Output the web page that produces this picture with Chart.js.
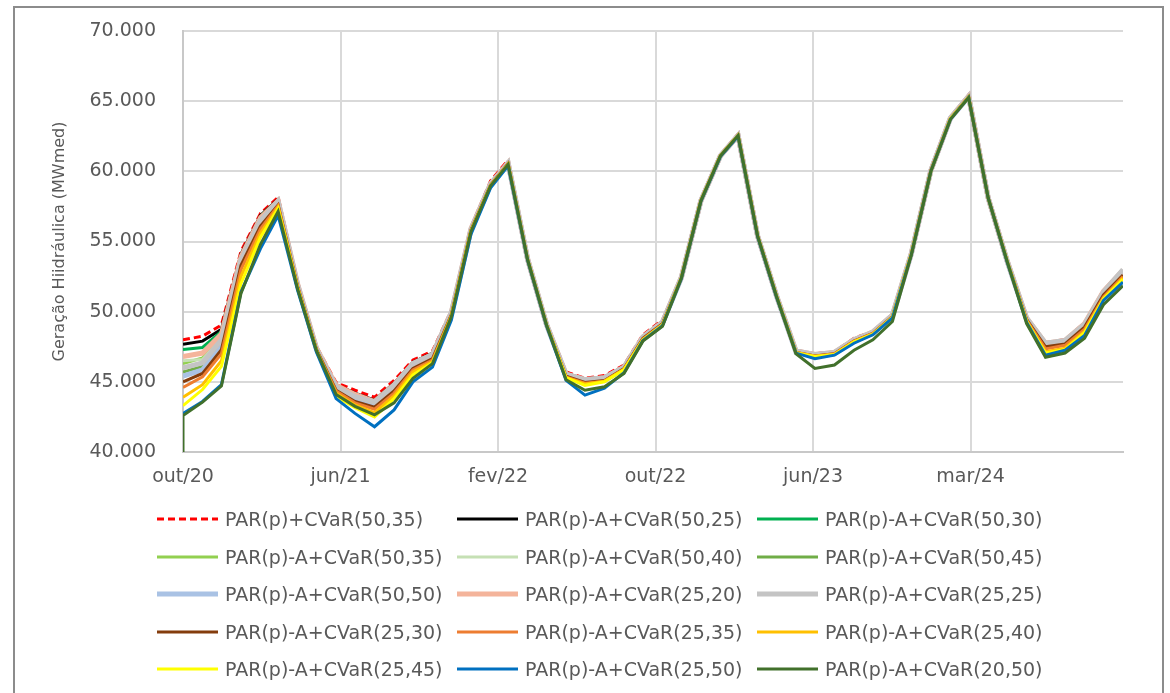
<!DOCTYPE html>
<html>
<head>
<meta charset="utf-8">
<script src="https://cdn.jsdelivr.net/npm/chart.js@4.4.1/dist/chart.umd.min.js"></script>
<style>
  html, body { margin: 0; padding: 0; background: #fff; }
  #wrap { position: relative; width: 1170px; height: 693px; overflow: hidden; }
  #frame { position: absolute; left: 13px; top: 6px; width: 1151px; height: 720px; border: 2px solid #8c8c8c; box-sizing: border-box; }
  #chart { position: absolute; left: 0; top: 0; }
  .leg { position: absolute; height: 24px; display: flex; align-items: center; white-space: nowrap;
         font-family: 'DejaVu Sans', sans-serif; font-size: 19px; color: #595959; }
  .leg svg { margin-right: 7px; }
</style>
</head>
<body>
<div id="wrap">
  <div id="frame"></div>
  <canvas id="chart" width="1170" height="693"></canvas>
  <div id="legend"></div>
</div>
<script>
(function () {
    'use strict';

    const months = [
        '2020-10', '2020-11', '2020-12',
        '2021-01', '2021-02', '2021-03', '2021-04', '2021-05', '2021-06', '2021-07', '2021-08', '2021-09', '2021-10', '2021-11', '2021-12',
        '2022-01', '2022-02', '2022-03', '2022-04', '2022-05', '2022-06', '2022-07', '2022-08', '2022-09', '2022-10', '2022-11', '2022-12',
        '2023-01', '2023-02', '2023-03', '2023-04', '2023-05', '2023-06', '2023-07', '2023-08', '2023-09', '2023-10', '2023-11', '2023-12',
        '2024-01', '2024-02', '2024-03', '2024-04', '2024-05', '2024-06', '2024-07', '2024-08', '2024-09', '2024-10', '2024-11',
    ];
    const mesesPt = ['jan', 'fev', 'mar', 'abr', 'mai', 'jun', 'jul', 'ago', 'set', 'out', 'nov', 'dez'];
    const yTicks = [40000, 45000, 50000, 55000, 60000, 65000, 70000];
    // Excel date axis: a label every 250 days from out/20
    const xTickStepDays = 250;

    const parCvar5035 = [47990, 48250, 49050, 54300, 57000, 58150, 52100, 47500, 44950, 44400, 43900, 45100, 46550, 47200, 50100, 56000, 59300, 60800, 53800, 49200, 45700, 45250, 45450, 46200, 48350, 49400, 52500, 57950, 61150, 62650, 55450, 51200, 47250, 47000, 47150, 48100, 48600, 49800, 54200, 60100, 63850, 65450, 58150, 53700, 49600, 47800, 48000, 49200, 51500, 52400];
    const a5025 = [47670, 47900, 48750, 54100, 56850, 58000, 52000, 47400, 44800, 44200, 43700, 44900, 46400, 47050, 50000, 55900, 59150, 60650, 53750, 49150, 45600, 45200, 45350, 46100, 48250, 49300, 52450, 57900, 61100, 62600, 55400, 51150, 47200, 46950, 47100, 48050, 48550, 49750, 54150, 60050, 63800, 65350, 58150, 53650, 49550, 47750, 47950, 49150, 51450, 52900];
    const a5030 = [47300, 47450, 48600, 54000, 56800, 57950, 51950, 47400, 44750, 44100, 43600, 44800, 46350, 47000, 49950, 55900, 59100, 60600, 53750, 49100, 45550, 45150, 45300, 46050, 48200, 49250, 52450, 57900, 61100, 62550, 55400, 51150, 47200, 46950, 47100, 48000, 48550, 49750, 54150, 60050, 63800, 65350, 58100, 53650, 49550, 47750, 47950, 49150, 51400, 52850];
    const a5035 = [46300, 46700, 48200, 53800, 56600, 57850, 51900, 47350, 44700, 44000, 43500, 44700, 46250, 46900, 49900, 55850, 59100, 60600, 53750, 49100, 45500, 45100, 45250, 46000, 48200, 49250, 52450, 57900, 61100, 62550, 55400, 51100, 47150, 46900, 47050, 48000, 48500, 49700, 54150, 60050, 63800, 65300, 58100, 53650, 49500, 47700, 47900, 49100, 51350, 52800];
    const a5040 = [46500, 46600, 48100, 53700, 56550, 57800, 51900, 47350, 44700, 44000, 43500, 44700, 46250, 46900, 49900, 55850, 59050, 60600, 53700, 49100, 45500, 45100, 45250, 46000, 48150, 49200, 52450, 57900, 61100, 62550, 55400, 51100, 47150, 46900, 47050, 47950, 48500, 49700, 54150, 60050, 63750, 65300, 58100, 53650, 49500, 47700, 47900, 49100, 51350, 52800];
    const a5045 = [45700, 46100, 47700, 53500, 56300, 57700, 51850, 47300, 44550, 43800, 43300, 44500, 46050, 46750, 49850, 55800, 59000, 60550, 53700, 49100, 45450, 45000, 45150, 45950, 48100, 49150, 52400, 57900, 61100, 62550, 55400, 51100, 47100, 46850, 47000, 47950, 48450, 49650, 54100, 60050, 63750, 65300, 58100, 53600, 49450, 47600, 47800, 49000, 51300, 52700];
    const a5050 = [45400, 45850, 47500, 53400, 56200, 57700, 51850, 47300, 44500, 43750, 43250, 44450, 46000, 46700, 49800, 55800, 59000, 60550, 53700, 49050, 45400, 44950, 45100, 45900, 48100, 49150, 52400, 57900, 61100, 62550, 55400, 51100, 47100, 46850, 47000, 47900, 48450, 49650, 54100, 60050, 63750, 65300, 58100, 53600, 49450, 47550, 47750, 48950, 51250, 52650];
    const a2520 = [46800, 47050, 48400, 53900, 56700, 57900, 51950, 47400, 44750, 44100, 43600, 44800, 46300, 46950, 49950, 55900, 59100, 60600, 53750, 49100, 45550, 45150, 45300, 46050, 48200, 49250, 52450, 57900, 61100, 62550, 55400, 51150, 47200, 46950, 47100, 48000, 48550, 49750, 54150, 60050, 63800, 65350, 58100, 53650, 49550, 47750, 47950, 49150, 51450, 52950];
    const a2525 = [46000, 46350, 48000, 53700, 56500, 57850, 51900, 47350, 44650, 43950, 43550, 44750, 46300, 46950, 49950, 55850, 59100, 60600, 53750, 49100, 45550, 45150, 45300, 46050, 48200, 49250, 52450, 57900, 61100, 62550, 55400, 51150, 47200, 46950, 47100, 48000, 48550, 49750, 54150, 60050, 63800, 65350, 58100, 53650, 49550, 47750, 47950, 49100, 51400, 53000];
    const a2530 = [45000, 45600, 47300, 53300, 56100, 57600, 51800, 47300, 44400, 43600, 43200, 44350, 45950, 46650, 49800, 55800, 59000, 60550, 53700, 49050, 45400, 44950, 45100, 45950, 48100, 49150, 52400, 57900, 61100, 62550, 55400, 51100, 47100, 46850, 47000, 47900, 48450, 49650, 54100, 60050, 63750, 65300, 58100, 53600, 49450, 47500, 47700, 48900, 51200, 52600];
    const a2535 = [44600, 45350, 47000, 53000, 55900, 57550, 51750, 47250, 44350, 43500, 43050, 44200, 45850, 46550, 49750, 55750, 59000, 60550, 53700, 49050, 45350, 44900, 45050, 45900, 48050, 49100, 52400, 57900, 61100, 62550, 55400, 51100, 47100, 46850, 47000, 47900, 48450, 49650, 54100, 60050, 63750, 65300, 58100, 53600, 49400, 47350, 47600, 48750, 51050, 52500];
    const a2540 = [43900, 44800, 46500, 52500, 55600, 57450, 51700, 47200, 44200, 43350, 42800, 44000, 45700, 46450, 49700, 55750, 58950, 60500, 53700, 49050, 45300, 44850, 45050, 45900, 48000, 49050, 52400, 57900, 61100, 62550, 55400, 51100, 47100, 46800, 46950, 47850, 48400, 49600, 54100, 60000, 63750, 65300, 58100, 53600, 49350, 47150, 47400, 48600, 50950, 52400];
    const a2545 = [43300, 44450, 46100, 52000, 55300, 57350, 51650, 47200, 43950, 43150, 42500, 43800, 45500, 46350, 49650, 55700, 58950, 60500, 53700, 49050, 45300, 44750, 45000, 45850, 48000, 49050, 52400, 57900, 61100, 62550, 55400, 51100, 47050, 46800, 46950, 47850, 48400, 49600, 54100, 60000, 63750, 65250, 58100, 53600, 49300, 47050, 47300, 48500, 50900, 52300];
    const a2550 = [42750, 43600, 44800, 51400, 54500, 56850, 51500, 47100, 43800, 42750, 41800, 43000, 45000, 46050, 49400, 55500, 58800, 60400, 53650, 49000, 45100, 44050, 44550, 45650, 47950, 49000, 52350, 57850, 61050, 62500, 55350, 51050, 47050, 46650, 46900, 47750, 48350, 49550, 54050, 60000, 63700, 65250, 58100, 53550, 49250, 46900, 47250, 48300, 50800, 52100];
    const a2050 = [42600, 43550, 44700, 51300, 54800, 57150, 51600, 47200, 44100, 43250, 42650, 43500, 45250, 46300, 49650, 55700, 58950, 60500, 53700, 49050, 45150, 44400, 44650, 45600, 47900, 48950, 52400, 57900, 61100, 62550, 55400, 51100, 47000, 45950, 46200, 47250, 48000, 49300, 54050, 60000, 63700, 65250, 58100, 53600, 49150, 46750, 47050, 48100, 50500, 51850];
    // the (20,50) series also has a leading zero at out/20 (vertical drop to the axis)
    const a2050Lead = 0;

    const series = [
        { label: 'PAR(p)+CVaR(50,35)', data: parCvar5035, color: '#ff0000', width: 3, dash: [7, 4] },
        { label: 'PAR(p)-A+CVaR(50,25)', data: a5025, color: '#000000', width: 3 },
        { label: 'PAR(p)-A+CVaR(50,30)', data: a5030, color: '#00b050', width: 3 },
        { label: 'PAR(p)-A+CVaR(50,35)', data: a5035, color: '#92d050', width: 3 },
        { label: 'PAR(p)-A+CVaR(50,40)', data: a5040, color: '#c5e0b4', width: 3 },
        { label: 'PAR(p)-A+CVaR(50,45)', data: a5045, color: '#70ad47', width: 3 },
        { label: 'PAR(p)-A+CVaR(50,50)', data: a5050, color: '#a9c2e4', width: 5 },
        { label: 'PAR(p)-A+CVaR(25,20)', data: a2520, color: '#f4b49b', width: 5 },
        { label: 'PAR(p)-A+CVaR(25,25)', data: a2525, color: '#c4c4c4', width: 5 },
        { label: 'PAR(p)-A+CVaR(25,30)', data: a2530, color: '#843c0c', width: 3 },
        { label: 'PAR(p)-A+CVaR(25,35)', data: a2535, color: '#ed7d31', width: 3 },
        { label: 'PAR(p)-A+CVaR(25,40)', data: a2540, color: '#ffc000', width: 3 },
        { label: 'PAR(p)-A+CVaR(25,45)', data: a2545, color: '#ffff00', width: 3 },
        { label: 'PAR(p)-A+CVaR(25,50)', data: a2550, color: '#0070c0', width: 3 },
        { label: 'PAR(p)-A+CVaR(20,50)', data: a2050, color: '#41702b', width: 3, lead: a2050Lead },
    ];

    const t0 = Date.UTC(2020, 9, 1);
    const dayMs = 86400000;
    function dayOf(ym) {
        const [y, m] = ym.split('-').map(Number);
        return (Date.UTC(y, m - 1, 1) - t0) / dayMs;
    }
    const xDays = months.map(dayOf);
    const xMax = xDays[xDays.length - 1];

    function fmtThousands(v) {
        const k = Math.floor(v / 1000);
        const r = String(Math.round(v % 1000)).padStart(3, '0');
        return k + '.' + r;
    }

    const datasets = series.map((s, i) => {
        const pts = s.data.map((v, j) => ({ x: xDays[j], y: v }));
        if (s.lead !== undefined) pts.unshift({ x: xDays[0], y: s.lead });
        return {
            label: s.label,
            data: pts,
            borderColor: s.color,
            backgroundColor: s.color,
            borderWidth: s.width,
            borderDash: s.dash || [],
            pointRadius: 0,
            tension: 0,
            fill: false,
            order: series.length - i,
        };
    });

    const tickFont = { family: 'DejaVu Sans', size: 19 };
    const grey = '#595959';
    const gridColor = '#d9d9d9';

    new Chart(document.getElementById('chart'), {
        type: 'line',
        data: { datasets },
        options: {
            responsive: false,
            animation: false,
            devicePixelRatio: 1,
            layout: { padding: { left: 0, top: 31, right: 47, bottom: 201 } },
            plugins: { legend: { display: false }, tooltip: { enabled: false } },
            scales: {
                x: {
                    type: 'linear',
                    min: 0,
                    max: xMax,
                    afterBuildTicks: (s) => {
                        const t = [];
                        for (let v = 0; v <= xMax; v += xTickStepDays) t.push({ value: v });
                        s.ticks = t;
                    },
                    grid: { color: gridColor, lineWidth: 2, drawTicks: false },
                    border: { color: '#c8c8c8', width: 2 },
                    ticks: {
                        autoSkip: false,
                        maxRotation: 0,
                        padding: 14,
                        color: grey,
                        font: tickFont,
                        callback: (v) => {
                            const d = new Date(t0 + v * dayMs);
                            return mesesPt[d.getUTCMonth()] + '/' + String(d.getUTCFullYear()).slice(2);
                        },
                    },
                    afterFit: (s) => { s.height = 40; s.paddingLeft = 0; s.paddingRight = 0; },
                },
                y: {
                    min: yTicks[0],
                    max: yTicks[yTicks.length - 1],
                    afterBuildTicks: (s) => { s.ticks = yTicks.map((v) => ({ value: v })); },
                    grid: { color: gridColor, lineWidth: 2, drawTicks: false },
                    border: { color: '#c8c8c8', width: 2 },
                    ticks: {
                        padding: 27,
                        color: grey,
                        font: tickFont,
                        callback: (v) => fmtThousands(v),
                    },
                    title: {
                        display: true,
                        text: 'Geração Hiidráulica (MWmed)',
                        color: grey,
                        font: { family: 'DejaVu Sans', size: 16 },
                        padding: { top: 50 },
                    },
                    afterFit: (s) => { s.width = 183; s.paddingTop = 0; s.paddingBottom = 0; },
                },
            },
        },
    });

    // legend: 3 columns x 5 rows, like the Excel one
    const legend = document.getElementById('legend');
    series.forEach((s, i) => {
        const col = i % 3;
        const row = Math.floor(i / 3);
        const item = document.createElement('div');
        item.className = 'leg';
        item.style.left = (157 + col * 300) + 'px';
        item.style.top = (519 + row * 37.5 - 12) + 'px';
        const dash = s.dash ? ' stroke-dasharray="' + s.dash.join(',') + '"' : '';
        item.innerHTML = '<svg width="61" height="10"><line x1="0" y1="5" x2="61" y2="5" stroke="' + s.color +
            '" stroke-width="' + s.width + '"' + dash + '/></svg><span></span>';
        item.querySelector('span').textContent = s.label;
        legend.appendChild(item);
    });
})();
</script>
</body>
</html>
